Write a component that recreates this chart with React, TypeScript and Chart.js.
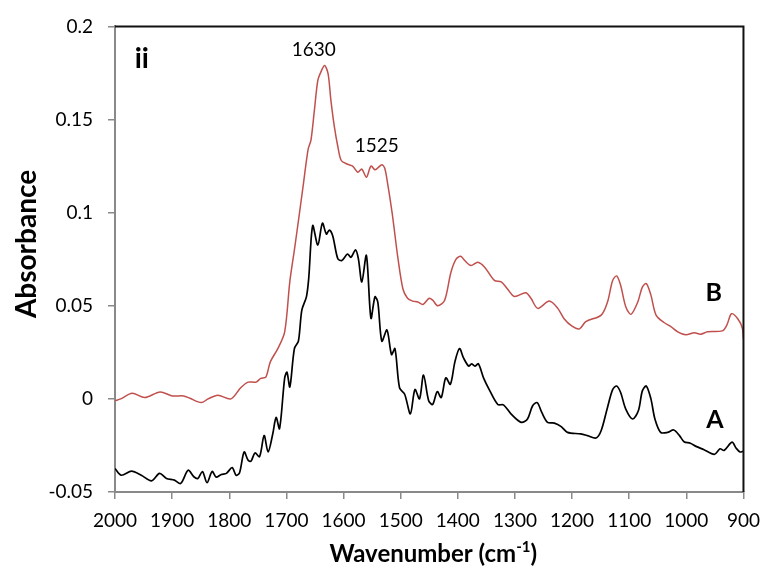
import React, { useEffect, useRef } from 'react';
import { Chart, registerables } from 'chart.js';

Chart.register(...registerables);

// Spectrum B (red)
const waveB = [
  2000, 1990, 1970, 1948, 1921, 1900, 1880, 1869, 1849, 1837, 1820, 1797, 1780, 1767, 1753, 1745,
  1736, 1728, 1715, 1703, 1694, 1686, 1677, 1670, 1662, 1657, 1651, 1645, 1639, 1633, 1627, 1622,
  1616, 1610, 1604, 1593, 1584, 1575, 1568, 1560, 1552, 1545, 1540, 1533, 1528, 1523, 1515, 1510,
  1505, 1496, 1488, 1479, 1470, 1461, 1450, 1444, 1435, 1423, 1412, 1403, 1395, 1388, 1377, 1365,
  1353, 1336, 1324, 1313, 1301, 1281, 1272, 1260, 1240, 1225, 1214, 1200, 1187, 1176, 1149, 1138,
  1129, 1122, 1115, 1106, 1097, 1085, 1077, 1070, 1062, 1053, 1039, 1027, 1015, 1001, 986, 975,
  963, 937, 929, 921, 910, 902, 900,
];
const absB = [
  -0.001, 0.0, 0.003, 0.0007, 0.0037, 0.0016, 0.0016, 0.0003, -0.002, 0.0, 0.002, 0.0, 0.006, 0.009, 0.009, 0.011,
  0.0117, 0.02, 0.027, 0.036, 0.063, 0.08, 0.1, 0.116, 0.134, 0.139, 0.155, 0.171, 0.176, 0.179, 0.1745, 0.16,
  0.146, 0.1355, 0.128, 0.126, 0.125, 0.1217, 0.1234, 0.119, 0.125, 0.123, 0.124, 0.1257, 0.124, 0.116, 0.1, 0.088,
  0.076, 0.059, 0.054, 0.0525, 0.052, 0.0507, 0.054, 0.053, 0.05, 0.053, 0.068, 0.075, 0.0766, 0.0743, 0.0716, 0.0734,
  0.0707, 0.0636, 0.0628, 0.059, 0.055, 0.057, 0.054, 0.0486, 0.0525, 0.0486, 0.043, 0.039, 0.0376, 0.0415, 0.045, 0.052,
  0.0636, 0.066, 0.061, 0.0495, 0.0454, 0.052, 0.06, 0.0619, 0.0557, 0.045, 0.041, 0.0388, 0.036, 0.0344, 0.0355, 0.0347,
  0.036, 0.0365, 0.0397, 0.0457, 0.043, 0.038, 0.032,
];

// Spectrum A (black)
const waveA = [
  2000, 1989, 1971, 1954, 1936, 1922, 1910, 1896, 1885, 1872, 1862, 1855, 1847, 1839, 1830, 1823,
  1814, 1805, 1795, 1788, 1782, 1774, 1767, 1762, 1755, 1747, 1739, 1732, 1724, 1718, 1712, 1703,
  1699, 1694, 1686, 1679, 1673, 1665, 1661, 1654, 1645, 1637, 1630, 1625, 1619, 1610, 1603, 1593,
  1587, 1579, 1574, 1568, 1560, 1552, 1545, 1540, 1533, 1524, 1516, 1510, 1502, 1493, 1483, 1475,
  1467, 1460, 1451, 1444, 1436, 1429, 1421, 1413, 1405, 1397, 1390, 1381, 1376, 1370, 1364, 1355,
  1345, 1330, 1320, 1307, 1289, 1278, 1269, 1261, 1253, 1243, 1231, 1219, 1208, 1185, 1173, 1158,
  1149, 1138, 1129, 1122, 1115, 1106, 1094, 1084, 1077, 1070, 1062, 1055, 1045, 1033, 1022, 1012,
  1004, 993, 983, 969, 951, 941, 934, 920, 913, 906, 900,
];
const absA = [
  -0.0374, -0.041, -0.0388, -0.041, -0.044, -0.04, -0.0427, -0.0436, -0.0454, -0.0383, -0.0418, -0.0427, -0.039, -0.045, -0.039, -0.042,
  -0.0406, -0.04, -0.0369, -0.041, -0.0397, -0.0285, -0.033, -0.0335, -0.029, -0.031, -0.0197, -0.0285, -0.019, -0.01, -0.016, 0.0113,
  0.0143, 0.0064, 0.027, 0.031, 0.0477, 0.0548, 0.0645, 0.093, 0.0826, 0.0943, 0.0885, 0.0906, 0.0876, 0.0752, 0.0743, 0.0778,
  0.076, 0.08, 0.0752, 0.0628, 0.077, 0.0433, 0.0548, 0.052, 0.031, 0.037, 0.0238, 0.027, 0.006, 0.0025, -0.008, 0.005,
  0.0, 0.0128, -0.001, -0.003, 0.0039, 0.0007, 0.0113, 0.0078, 0.02, 0.027, 0.022, 0.0176, 0.0188, 0.0176, 0.0188, 0.0113,
  0.005, -0.003, -0.0032, -0.008, -0.0126, -0.0108, -0.0037, -0.002, -0.0073, -0.0126, -0.013, -0.0149, -0.018, -0.0188, -0.0197, -0.021,
  -0.017, -0.0046, 0.005, 0.0069, 0.0034, -0.0055, -0.0108, -0.0064, 0.0043, 0.0069, 0.0, -0.0108, -0.018, -0.018, -0.0167, -0.0197,
  -0.023, -0.0238, -0.0255, -0.0273, -0.0298, -0.0268, -0.0277, -0.0232, -0.0264, -0.0285, -0.028,
];

// Annotation labels, anchored in data coordinates (wavenumber, absorbance)
const annText = ['ii', '1630', '1525', 'B', 'A'];
const annWave = [1953, 1652, 1542, 952, 950];
const annAbs = [0.1824, 0.1872, 0.1356, 0.0569, -0.0112];

const yTitle = 'Absorbance';

const FONT = 'Lato, "Open Sans", sans-serif';

const framePlugin = {
  id: 'frameAndText',
  afterDraw(chart: any) {
    const { ctx, chartArea } = chart;
    const xs = chart.scales.x;
    const ys = chart.scales.y;
    ctx.save();
    // top & right frame
    ctx.strokeStyle = '#111';
    ctx.lineWidth = 2;
    ctx.beginPath();
    ctx.moveTo(chartArea.left, chartArea.top);
    ctx.lineTo(chartArea.right, chartArea.top);
    ctx.lineTo(chartArea.right, chartArea.bottom);
    ctx.stroke();

    // annotations
    ctx.fillStyle = '#000';
    ctx.textAlign = 'center';
    ctx.textBaseline = 'middle';
    annText.forEach((t, i) => {
      const big = t === 'ii';
      const letter = t === 'A' || t === 'B';
      ctx.font = big ? `bold 28px ${FONT}` : letter ? `bold 25px ${FONT}` : `19px ${FONT}`;
      ctx.fillText(t, xs.getPixelForValue(annWave[i]), ys.getPixelForValue(annAbs[i]));
    });

    // y-axis title
    ctx.save();
    ctx.translate(27, 244);
    ctx.rotate(-Math.PI / 2);
    ctx.font = `bold 28px ${FONT}`;
    ctx.textAlign = 'center';
    ctx.textBaseline = 'middle';
    ctx.fillText(yTitle, 0, 0);
    ctx.restore();

    // x-axis title with superscript
    const main = 'Wavenumber (cm';
    const sup = '-1';
    const end = ')';
    const fMain = `bold 24px ${FONT}`;
    const fSup = `bold 15px ${FONT}`;
    ctx.font = fMain;
    const wMain = ctx.measureText(main).width;
    const wEnd = ctx.measureText(end).width;
    ctx.font = fSup;
    const wSup = ctx.measureText(sup).width;
    const total = wMain + wSup + wEnd;
    const cx = (chartArea.left + chartArea.right) / 2 + 4;
    let x0 = cx - total / 2;
    const base = 562;
    ctx.textAlign = 'left';
    ctx.textBaseline = 'alphabetic';
    ctx.font = fMain;
    ctx.fillText(main, x0, base);
    x0 += wMain;
    ctx.font = fSup;
    ctx.fillText(sup, x0, base - 10);
    x0 += wSup;
    ctx.font = fMain;
    ctx.fillText(end, x0, base);
    ctx.restore();
  },
};

export default function App() {
  const ref = useRef<HTMLCanvasElement>(null);
  useEffect(() => {
    if (!ref.current) return;
    const chart = new Chart(ref.current, {
      type: 'line',
      data: {
        datasets: [
          {
            label: 'B',
            data: waveB.map((x, i) => ({ x, y: absB[i] })),
            borderColor: '#c0504d',
            borderWidth: 1.5,
            pointRadius: 0,
            tension: 0.3,
            fill: false,
          },
          {
            label: 'A',
            data: waveA.map((x, i) => ({ x, y: absA[i] })),
            borderColor: '#000000',
            borderWidth: 1.7,
            pointRadius: 0,
            tension: 0.3,
            fill: false,
          },
        ],
      },
      options: {
        responsive: false,
        animation: false,
        layout: { padding: { top: 22, right: 23, left: 0, bottom: 0 } },
        plugins: { legend: { display: false }, tooltip: { enabled: false } },
        scales: {
          x: {
            type: 'linear',
            reverse: true,
            min: 900,
            max: 2000,
            ticks: {
              stepSize: 100,
              autoSkip: false,
              maxRotation: 0,
              color: '#000',
              padding: 10,
              font: { family: FONT, size: 19 },
              callback: (v: any) => String(v),
            },
            grid: { drawOnChartArea: false, drawTicks: true, tickLength: 7, color: '#898989', lineWidth: 1.5 },
            border: { color: '#898989', width: 2 },
            afterFit: (s: any) => {
              s.height = 84;
            },
          },
          y: {
            min: -0.05,
            max: 0.2,
            ticks: {
              stepSize: 0.05,
              color: '#000',
              padding: 15,
              font: { family: FONT, size: 19 },
              callback: (v: any) => String(Number(Number(v).toFixed(2))),
            },
            grid: { drawOnChartArea: false, drawTicks: true, tickLength: 7, color: '#898989', lineWidth: 1.5 },
            border: { color: '#898989', width: 2 },
            afterFit: (s: any) => {
              s.width = 115;
            },
          },
        },
      },
      plugins: [framePlugin],
    });
    return () => chart.destroy();
  }, []);
  return (
    <div style={{ position: 'fixed', left: 0, top: 0, width: 770, height: 576, background: '#fff' }}>
      <canvas ref={ref} width={770} height={576} style={{ display: 'block' }} />
    </div>
  );
}
